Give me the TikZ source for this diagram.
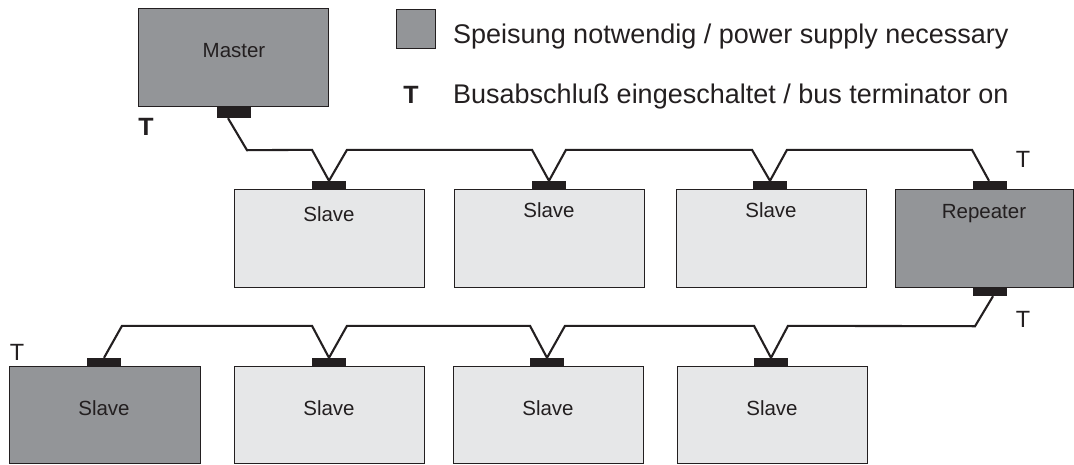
\documentclass[tikz,border=0pt]{standalone}
\usepackage{fontspec}
\setmainfont{Liberation Sans}
\definecolor{darkbox}{HTML}{939598}
\definecolor{lightbox}{HTML}{E6E7E8}
\definecolor{ink}{HTML}{231F20}
\begin{document}
\begin{tikzpicture}[x=1pt,y=-1pt,
  box/.style={draw=ink,line width=1.2pt,inner sep=0pt,anchor=north west,minimum height=98pt},
  pbox/.style={box,fill=darkbox},
  lbox/.style={box,fill=lightbox},
  plug/.style={fill=ink,draw=none,inner sep=0pt,minimum width=34pt,minimum height=8pt},
  cable/.style={draw=ink,line width=2.1pt,line join=miter},
  lab/.style={anchor=base,text=ink,font=\fontsize{20.5}{24}\selectfont,inner sep=0pt},
  leg/.style={anchor=base west,text=ink,font=\fontsize{27}{32}\selectfont,inner sep=0pt},
  tlab/.style={anchor=base,text=ink,font=\fontsize{23.5}{28}\selectfont,inner sep=0pt},
  tbold/.style={anchor=base,text=ink,font=\fontsize{25}{30}\selectfont\bfseries,inner sep=0pt}]
\useasboundingbox (0,0) rectangle (1074,464);
% legend
\node[draw=ink,line width=1.2pt,fill=darkbox,inner sep=0pt,minimum width=39pt,minimum height=39pt,anchor=north west] (legbox) at (396,9) {};
\node[leg] (legtxt1) at (453,43) {Speisung notwendig / power supply necessary};
\node[tbold] (legT) at (411,103) {T};
\node[leg] (legtxt2) at (453,103) {Busabschluß eingeschaltet / bus terminator on};
% boxes
\node[pbox,minimum width=190pt] (M) at (138,8) {};
\node[lab] (Mt) at (234,57) {Master};
\node[lbox,minimum width=190pt] (s1) at (234,189) {};
\node[lbox,minimum width=190pt] (s2) at (454,189) {};
\node[lbox,minimum width=190pt] (s3) at (676,189) {};
\node[pbox,minimum width=178pt] (R) at (895,189) {};
\node[pbox,minimum width=191pt,minimum height=97pt] (d1) at (9,366) {};
\node[lbox,minimum width=190pt,minimum height=97pt] (s4) at (234,366) {};
\node[lbox,minimum width=190pt,minimum height=97pt] (s5) at (453,366) {};
\node[lbox,minimum width=190pt,minimum height=97pt] (s6) at (677,366) {};
\node[lab] (s1t) at (329,221) {Slave};
\node[lab] (s2t) at (549,217) {Slave};
\node[lab] (s3t) at (771,217) {Slave};
\node[lab] (Rt) at (984,218) {Repeater};
\node[lab] (d1t) at (104,415) {Slave};
\node[lab] (s4t) at (329,415) {Slave};
\node[lab] (s5t) at (548,415) {Slave};
\node[lab] (s6t) at (772,415) {Slave};
% plugs
\node[plug,minimum height=12pt] (cm) at (234,112) {};
\node[plug] (c1) at (329,185) {};
\node[plug] (c2) at (549,185) {};
\node[plug] (c3) at (770,185) {};
\node[plug] (cr) at (990,185) {};
\node[plug,minimum height=9pt] (crb) at (990,291.5) {};
\node[plug] (cd1) at (104,362) {};
\node[plug] (c4) at (329,362) {};
\node[plug] (c5) at (547,362) {};
\node[plug] (c6) at (771,362) {};
% T labels
\node[tbold] (Tm) at (146,135) {T};
\node[tlab] (Tr1) at (1023,167) {T};
\node[tlab] (Tr2) at (1023,327) {T};
\node[tlab] (Td1) at (17,360) {T};
% cables row 1
\draw[cable] ([xshift=-6pt]cm.south) -- ++(19,32)
  -- ([xshift=-17pt,yshift=31pt]c1.north) -- (c1.north) -- ([xshift=18pt,yshift=31pt]c1.north)
  -- ([xshift=-17pt,yshift=31pt]c2.north) -- (c2.north) -- ([xshift=17pt,yshift=31pt]c2.north)
  -- ([xshift=-18pt,yshift=31pt]c3.north) -- (c3.north) -- ([xshift=17pt,yshift=31pt]c3.north)
  -- ([xshift=-18pt,yshift=31pt]cr.north) -- ([xshift=-1pt]cr.north);
% cables row 2
\draw[cable] ([xshift=3pt]crb.south) -- ([xshift=-15pt,yshift=-30pt]crb.south)
  -- ([xshift=17pt,yshift=32pt]c6.north) -- (c6.north) -- ([xshift=-17pt,yshift=32pt]c6.north)
  -- ([xshift=18pt,yshift=32pt]c5.north) -- (c5.north) -- ([xshift=-17pt,yshift=32pt]c5.north)
  -- ([xshift=18pt,yshift=32pt]c4.north) -- (c4.north) -- ([xshift=-17pt,yshift=32pt]c4.north)
  -- ([xshift=18pt,yshift=32pt]cd1.north) -- (cd1.north);
\end{tikzpicture}
\end{document}
